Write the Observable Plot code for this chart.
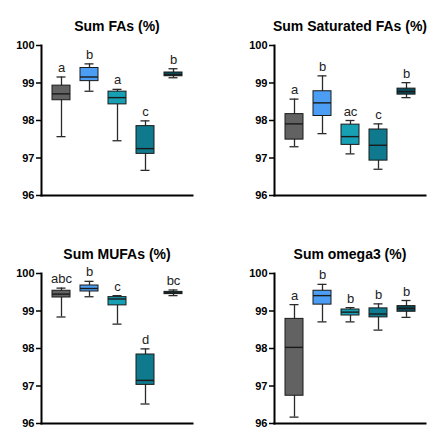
<!DOCTYPE html>
<html>
<head>
<meta charset="utf-8">
<script src="https://cdn.jsdelivr.net/npm/d3@7"></script>
<script src="https://cdn.jsdelivr.net/npm/@observablehq/plot@0.6"></script>
<style>
  html, body { margin: 0; padding: 0; background: #fff; }
  #wrap { position: relative; width: 435px; height: 441px; overflow: hidden; }
  #wrap svg { position: absolute; }
</style>
</head>
<body>
<div id="wrap"></div>
<script>
// ---- Data ----
const groups = ["G1", "G2", "G3", "G4", "G5"];
const groupColors = ["#626262", "#4c9ef4", "#179fb4", "#0f7a8e", "#0b4a5a"];
const yTicks = [96, 97, 98, 99, 100];

// Sum FAs (%)
const faTitle = "Sum FAs (%)";
const faMin  = [97.57, 98.78, 97.46, 96.67, 99.14];
const faQ1   = [98.54, 99.05, 98.43, 97.11, 99.18];
const faMed  = [98.71, 99.16, 98.61, 97.25, 99.22];
const faQ3   = [98.93, 99.40, 98.77, 97.85, 99.28];
const faMax  = [99.16, 99.51, 98.83, 97.99, 99.38];
const faLetters = ["a", "b", "a", "c", "b"];

// Sum Saturated FAs (%)
const satTitle = "Sum Saturated FAs (%)";
const satMin  = [97.30, 97.65, 97.11, 96.70, 98.61];
const satQ1   = [97.49, 98.12, 97.35, 96.93, 98.69];
const satMed  = [97.91, 98.47, 97.57, 97.34, 98.77];
const satQ3   = [98.17, 98.78, 97.89, 97.76, 98.85];
const satMax  = [98.57, 99.19, 98.00, 97.91, 99.01];
const satLetters = ["a", "b", "ac", "c", "b"];

// Sum MUFAs (%)
const mufaTitle = "Sum MUFAs (%)";
const mufaMin  = [98.84, 99.38, 98.65, 96.52, 99.41];
const mufaQ1   = [99.36, 99.52, 99.15, 97.03, 99.45];
const mufaMed  = [99.45, 99.60, 99.32, 97.15, 99.48];
const mufaQ3   = [99.54, 99.68, 99.37, 97.84, 99.51];
const mufaMax  = [99.61, 99.79, 99.41, 97.99, 99.56];
const mufaLetters = ["abc", "b", "c", "d", "bc"];

// Sum omega3 (%)
const o3Title = "Sum omega3 (%)";
const o3Min  = [96.17, 98.71, 98.71, 98.49, 98.83];
const o3Q1   = [96.74, 99.17, 98.88, 98.83, 98.98];
const o3Med  = [98.03, 99.41, 98.97, 98.92, 99.07];
const o3Q3   = [98.79, 99.54, 99.04, 99.07, 99.13];
const o3Max  = [99.17, 99.71, 99.09, 99.19, 99.28];
const o3Letters = ["a", "b", "b", "b", "b"];

// ---- Drawing ----
function rowsOf(mins, q1s, meds, q3s, maxs, letters) {
  return groups.map((g, i) => ({
    g, min: mins[i], q1: q1s[i], med: meds[i], q3: q3s[i], max: maxs[i], letter: letters[i]
  }));
}

function panel(title, rows, box) {
  const chart = Plot.plot({
    width: box.w, height: box.h,
    marginLeft: box.ml, marginRight: box.mr, marginTop: box.mt, marginBottom: box.mb,
    style: { fontFamily: "'Liberation Sans', Arial, sans-serif", color: "#000", background: "transparent" },
    x: { domain: groups, padding: 0.365, axis: null },
    y: { domain: [96, 100], axis: null },
    color: { domain: groups, range: groupColors },
    marks: [
      Plot.axisY(yTicks, { tickSize: 5, tickPadding: 2, fontWeight: "bold", fontSize: 11, strokeWidth: 1.5, fill: "#000", stroke: "#000" }),
      Plot.frame({ anchor: "left", stroke: "#000", strokeWidth: 2 }),
      Plot.frame({ anchor: "bottom", stroke: "#000", strokeWidth: 2 }),
      Plot.ruleX(rows, { x: "g", y1: "min", y2: "max", stroke: "#2a2a2a", strokeWidth: 1.3 }),
      Plot.tickY(rows, { x: "g", y: "min", stroke: "#2a2a2a", strokeWidth: 1.3, insetLeft: 4.5, insetRight: 4.5 }),
      Plot.tickY(rows, { x: "g", y: "max", stroke: "#2a2a2a", strokeWidth: 1.3, insetLeft: 4.5, insetRight: 4.5 }),
      Plot.barY(rows, { x: "g", y1: "q1", y2: "q3", fill: "g", stroke: "#1a1a1a", strokeWidth: 1 }),
      Plot.tickY(rows, { x: "g", y: "med", stroke: "#1a1a1a", strokeWidth: 1.4 }),
      Plot.text(rows, { x: "g", y: "max", text: "letter", dy: -5, lineAnchor: "bottom", fontSize: 13, fill: "#222" }),
      Plot.text([title], { frameAnchor: "top", dy: box.tdy, fontWeight: "bold", fontSize: 14, fill: "#000" })
    ]
  });
  chart.style.left = box.x + "px";
  chart.style.top = box.y + "px";
  document.getElementById("wrap").appendChild(chart);
}

panel(faTitle, rowsOf(faMin, faQ1, faMed, faQ3, faMax, faLetters),
  { x: 0, y: 0, w: 217, h: 220, ml: 41, mr: 25, mt: 45, mb: 25, tdy: -24 });
panel(satTitle, rowsOf(satMin, satQ1, satMed, satQ3, satMax, satLetters),
  { x: 217, y: 0, w: 218, h: 220, ml: 57, mr: 10, mt: 45, mb: 25, tdy: -24 });
panel(mufaTitle, rowsOf(mufaMin, mufaQ1, mufaMed, mufaQ3, mufaMax, mufaLetters),
  { x: 0, y: 220, w: 217, h: 221, ml: 41, mr: 25, mt: 53, mb: 18, tdy: -24 });
panel(o3Title, rowsOf(o3Min, o3Q1, o3Med, o3Q3, o3Max, o3Letters),
  { x: 217, y: 220, w: 218, h: 221, ml: 57, mr: 10, mt: 53, mb: 18, tdy: -24 });
</script>
</body>
</html>
